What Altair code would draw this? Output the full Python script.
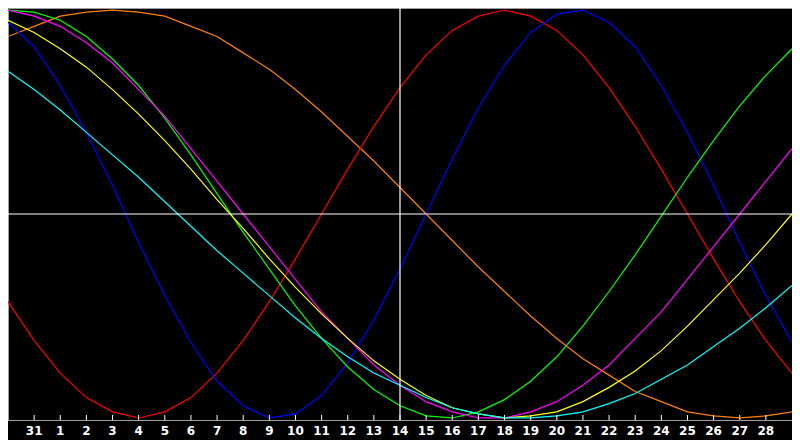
import altair as alt
import pandas as pd

# x positions: -1 (30th, left edge) ... 29 (right edge); ticks 0..28
day_pos = list(range(-1, 30))
tick_pos = list(range(0, 29))
tick_labels = ["31"] + [str(d) for d in range(1, 29)]

red = [-43, -62, -78, -90, -97, -100, -97, -90, -78, -62, -43, -22, 0, 22, 43, 62,
       78, 90, 97, 100, 97, 90, 78, 62, 43, 22, 0, -22, -43, -62, -78]
blue = [94, 82, 63, 40, 14, -14, -40, -63, -82, -94, -100, -98, -89, -73, -52, -27,
        0, 27, 52, 73, 89, 98, 100, 94, 82, 63, 40, 14, -14, -40, -63]
green = [100, 99, 95, 87, 76, 63, 47, 29, 10, -9, -27, -45, -61, -75, -86, -94,
         -99, -100, -97, -91, -82, -70, -55, -38, -20, -1, 18, 36, 53, 68, 81]
magenta = [100, 97, 92, 84, 74, 61, 48, 32, 16, 0, -16, -32, -48, -61, -74, -84,
           -92, -97, -100, -100, -97, -92, -84, -74, -61, -48, -32, -16, 0, 16, 32]
yellow = [95, 89, 81, 72, 61, 49, 36, 22, 7, -7, -22, -36, -49, -61, -72, -81,
          -89, -95, -98, -100, -99, -97, -92, -85, -77, -67, -55, -42, -29, -15, 0]
cyan = [70, 61, 51, 40, 29, 18, 6, -6, -18, -29, -40, -51, -61, -70, -78, -84,
        -90, -95, -98, -100, -100, -99, -97, -93, -88, -81, -74, -65, -56, -46, -35]
orange = [87, 92, 97, 99, 100, 99, 97, 92, 87, 79, 71, 61, 50, 38, 26, 13,
          0, -13, -26, -38, -50, -61, -71, -79, -87, -92, -97, -99, -100, -99, -97]

series = {
    "orange": orange,
    "red": red,
    "blue": blue,
    "green": green,
    "magenta": magenta,
    "yellow": yellow,
    "cyan": cyan,
}
colors = {
    "orange": "#ff8000",
    "red": "#ff0000",
    "blue": "#0000ff",
    "green": "#00ff00",
    "magenta": "#ff00ff",
    "yellow": "#ffff00",
    "cyan": "#00ffff",
}

rows = []
for order, (name, vals) in enumerate(series.items()):
    for d, v in zip(day_pos, vals):
        rows.append({"day": d, "value": v, "curve": name, "ord": order})
df = pd.DataFrame(rows)

W, H = 784, 412
xscale = alt.Scale(domain=[-1, 29], nice=False, zero=False)
yscale = alt.Scale(domain=[-101, 101], nice=False, zero=False)

lines = alt.Chart(df).mark_line(strokeWidth=1.2, clip=True).encode(
    x=alt.X("day:Q", scale=xscale, axis=None),
    y=alt.Y("value:Q", scale=yscale, axis=None),
    color=alt.Color("curve:N", scale=alt.Scale(domain=list(colors.keys()),
                                               range=list(colors.values())), legend=None),
    detail="curve:N",
    order="ord:Q",
)

ticks_df = pd.DataFrame({"day": tick_pos, "label": tick_labels})
ticks = alt.Chart(ticks_df).mark_rule(color="white", strokeWidth=1).encode(
    x=alt.X("day:Q", scale=xscale, axis=None),
    y=alt.value(H - 5),
    y2=alt.value(H),
)
labels = alt.Chart(ticks_df).mark_text(
    color="white", font="DejaVu Sans", fontWeight="bold", fontSize=12,
    align="center", baseline="top",
).encode(
    x=alt.X("day:Q", scale=xscale, axis=None),
    y=alt.value(H + 6),
    text="label:N",
)

vline = alt.Chart(pd.DataFrame({"day": [14]})).mark_rule(color="white", strokeWidth=1.2).encode(
    x=alt.X("day:Q", scale=xscale, axis=None),
    y=alt.value(0),
    y2=alt.value(H),
)
hline = alt.Chart(pd.DataFrame({"value": [0]})).mark_rule(color="white", strokeWidth=1.2).encode(
    y=alt.Y("value:Q", scale=yscale, axis=None),
    x=alt.value(0),
    x2=alt.value(W),
)

chart = alt.layer(lines, ticks, labels, vline, hline).properties(
    width=W, height=H,
    autosize=alt.AutoSizeParams(type="none"),
    padding={"left": 0, "top": 0, "right": 0, "bottom": 20},
    background="black",
).configure_view(
    stroke="#a0a0a0", strokeWidth=1, fill="black"
)

chart.save("out.html", embed_options={"renderer": "svg", "actions": False})
